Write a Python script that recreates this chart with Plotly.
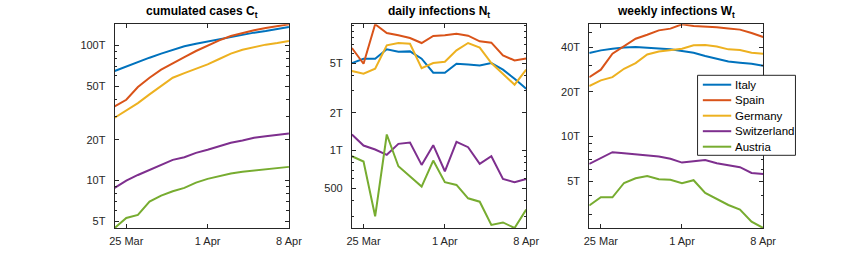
import math
import plotly.graph_objects as go

dates = ["2020-03-24", "2020-03-25", "2020-03-26", "2020-03-27", "2020-03-28", "2020-03-29",
         "2020-03-30", "2020-03-31", "2020-04-01", "2020-04-02", "2020-04-03", "2020-04-04",
         "2020-04-05", "2020-04-06", "2020-04-07", "2020-04-08"]
countries = ["Italy", "Spain", "Germany", "Switzerland", "Austria"]
colors = ["#0072BD", "#D95319", "#EDB120", "#7E2F8E", "#77AC30"]

# cumulated cases C_t
cum_italy = [64800, 70200, 76000, 81400, 87200, 93300, 98800, 103400, 107600, 112000, 116600, 120600, 124800, 128400, 132100, 137500]
cum_spain = [35400, 39700, 49300, 57800, 66300, 74300, 82300, 91200, 100500, 109500, 117900, 124100, 129900, 135100, 139800, 143900]
cum_germany = [29200, 33100, 37500, 43500, 50400, 57800, 62600, 67500, 72600, 79600, 87200, 93300, 97700, 101700, 104600, 108200]
cum_switzerland = [8820, 10000, 11000, 12000, 13070, 14230, 14900, 16050, 16900, 17980, 19040, 19800, 20740, 21300, 21800, 22330]
cum_austria = [4450, 5280, 5560, 6990, 7740, 8330, 8820, 9660, 10290, 10830, 11270, 11600, 11870, 12070, 12350, 12630]

# daily infections N_t
daily_italy = [5000, 5420, 5420, 6440, 6170, 6200, 5420, 4190, 4190, 4940, 4880, 4790, 5000, 4430, 3750, 3120]
daily_spain = [6600, 4940, 10200, 8700, 8330, 7930, 7230, 8230, 8330, 8590, 8280, 7460, 7280, 5760, 5250, 5450]
daily_germany = [4320, 4110, 4510, 6930, 7230, 7140, 4560, 5000, 5130, 6320, 7230, 6640, 5000, 4110, 3360, 4430]
daily_switzerland = [1345, 1098, 1020, 925, 1132, 1160, 769, 1105, 684, 1175, 1065, 783, 902, 594, 559, 594]
daily_austria = [902, 818, 299, 1345, 750, 620, 516, 833, 559, 532, 416, 391, 255, 267, 241, 338]

# weekly infections W_t
weekly_italy = [36450, 38000, 39000, 39800, 40000, 39600, 39200, 38600, 37600, 36650, 34800, 33200, 32000, 31400, 30900, 29960]
weekly_spain = [25100, 28200, 36100, 40400, 45500, 48400, 51800, 53200, 56900, 55400, 55100, 54300, 53400, 52400, 49700, 46700]
weekly_germany = [21900, 23900, 25100, 28600, 31200, 35700, 37400, 38000, 39000, 41100, 41300, 40400, 38600, 38200, 36650, 36100]
weekly_switzerland = [6550, 7150, 7860, 7730, 7610, 7500, 7350, 7090, 6690, 6830, 6970, 6620, 6390, 6230, 5700, 5610]
weekly_austria = [3440, 3910, 3910, 4880, 5250, 5440, 5170, 5120, 4860, 5090, 4180, 3810, 3470, 3230, 2680, 2430]

titles = ["<b>cumulated cases C<sub>t</sub></b>", "<b>daily infections N<sub>t</sub></b>",
          "<b>weekly infections W<sub>t</sub></b>"]
x_tickvals = ["2020-03-25", "2020-04-01", "2020-04-08"]
x_ticktext = ["25 Mar", "1 Apr", "8 Apr"]
y_tickvals = [[5000, 10000, 20000, 50000, 100000], [500, 1000, 2000, 5000], [5000, 10000, 20000, 40000]]
y_ticktext = [["5T", "10T", "20T", "50T", "100T"], ["500", "1T", "2T", "5T"], ["5T", "10T", "20T", "40T"]]

panels = [
    [cum_italy, cum_spain, cum_germany, cum_switzerland, cum_austria],
    [daily_italy, daily_spain, daily_germany, daily_switzerland, daily_austria],
    [weekly_italy, weekly_spain, weekly_germany, weekly_switzerland, weekly_austria],
]

W, H = 863, 255
x_domains = [[112 / W, 290 / W], [354.3 / W, 532.3 / W], [596.7 / W, 774.3 / W]]
y_domain = [(H - 228) / H, (H - 24.3) / H]

FONT = "Liberation Sans, Arial, Helvetica, sans-serif"
AX = "#262626"

fig = go.Figure()
annotations = []
shapes = []
layout = {}
for p, series in enumerate(panels):
    sfx = "" if p == 0 else str(p + 1)
    for c, vals in enumerate(series):
        fig.add_trace(go.Scatter(
            x=dates, y=vals, mode="lines", name=countries[c],
            line=dict(color=colors[c], width=2),
            showlegend=False, xaxis="x" + sfx, yaxis="y" + sfx,
        ))
    allv = [v for s in series for v in s]
    lo, hi = math.log10(min(allv)), math.log10(max(allv))
    majors = y_tickvals[p]
    minors = [k * 10 ** n for n in range(1, 7) for k in range(1, 10)
              if min(allv) <= k * 10 ** n <= max(allv) and k * 10 ** n not in majors]
    layout["xaxis" + sfx] = dict(
        domain=x_domains[p], anchor="y" + sfx, type="date",
        range=[dates[0], dates[-1]], tickvals=x_tickvals, ticktext=x_ticktext,
        ticks="inside", ticklen=4, tickcolor=AX, showline=True, linecolor=AX, linewidth=1,
        mirror="ticks", showgrid=False, zeroline=False, ticklabelstandoff=3,
        tickfont=dict(family=FONT, size=11, color=AX),
    )
    layout["yaxis" + sfx] = dict(
        domain=y_domain, anchor="x" + sfx, type="log", range=[lo, hi],
        tickvals=majors, ticktext=y_ticktext[p],
        ticks="inside", ticklen=4, tickcolor=AX, showline=True, linecolor=AX, linewidth=1,
        mirror="ticks", showgrid=False, zeroline=False, ticklabelstandoff=6,
        minor=dict(tickvals=minors, ticks="inside", ticklen=2.5, tickcolor=AX, showgrid=False),
        tickfont=dict(family=FONT, size=11, color=AX),
    )
    annotations.append(dict(
        text=titles[p], x=sum(x_domains[p]) / 2, y=(H - 11.7) / H, xref="paper", yref="paper",
        xanchor="center", yanchor="middle", showarrow=False,
        font=dict(family=FONT, size=12, color="#000000"),
    ))

# legend box (drawn by hand to match the compact spacing)
lg_x0, lg_x1, lg_top, lg_bot = 707.3, 807.3, 75.3, 155.3
shapes.append(dict(type="rect", xref="paper", yref="paper",
                   x0=lg_x0 / W, x1=lg_x1 / W, y0=(H - lg_bot) / H, y1=(H - lg_top) / H,
                   line=dict(color=AX, width=1), fillcolor="white", layer="above"))
for c, name in enumerate(countries):
    yc = 84.7 + c * 15.5
    shapes.append(dict(type="line", xref="paper", yref="paper",
                       x0=712.7 / W, x1=741.7 / W, y0=(H - yc) / H, y1=(H - yc) / H,
                       line=dict(color=colors[c], width=2), layer="above"))
    annotations.append(dict(
        text=name, x=743.5 / W, y=(H - yc) / H, xref="paper", yref="paper",
        xanchor="left", yanchor="middle", showarrow=False,
        font=dict(family=FONT, size=11.5, color="#000000"),
    ))

fig.update_layout(
    width=W, height=H, margin=dict(l=0, r=0, t=0, b=0),
    paper_bgcolor="white", plot_bgcolor="white",
    annotations=annotations, shapes=shapes, showlegend=False,
    **layout,
)
fig.write_html("out.html", config={"displayModeBar": False},
               post_script="document.body.style.margin='0px';")
